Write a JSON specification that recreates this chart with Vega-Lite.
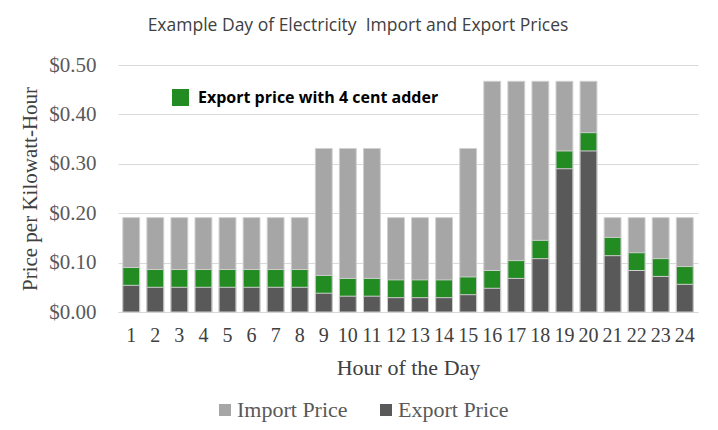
{
  "$schema": "https://vega.github.io/schema/vega-lite/v6.json",
  "autosize": "none",
  "padding": {"left": 118, "top": 65, "right": 20, "bottom": 118},
  "width": 580,
  "height": 247,
  "background": "white",
  "title": {
    "text": "Example Day of Electricity\u00a0\u00a0Import and Export Prices",
    "font": "Open Sans",
    "fontSize": 17.5,
    "fontWeight": "normal",
    "color": "#404040",
    "anchor": "middle",
    "dx": -50,
    "offset": 20
  },
  "data": {
    "values": [
      {"hour": 1, "import": 0.191, "export": 0.054, "adder": 0.090},
      {"hour": 2, "import": 0.191, "export": 0.050, "adder": 0.086},
      {"hour": 3, "import": 0.191, "export": 0.050, "adder": 0.086},
      {"hour": 4, "import": 0.191, "export": 0.050, "adder": 0.086},
      {"hour": 5, "import": 0.191, "export": 0.050, "adder": 0.086},
      {"hour": 6, "import": 0.191, "export": 0.050, "adder": 0.086},
      {"hour": 7, "import": 0.191, "export": 0.050, "adder": 0.086},
      {"hour": 8, "import": 0.191, "export": 0.050, "adder": 0.086},
      {"hour": 9, "import": 0.331, "export": 0.038, "adder": 0.074},
      {"hour": 10, "import": 0.331, "export": 0.032, "adder": 0.068},
      {"hour": 11, "import": 0.331, "export": 0.032, "adder": 0.068},
      {"hour": 12, "import": 0.191, "export": 0.029, "adder": 0.065},
      {"hour": 13, "import": 0.191, "export": 0.029, "adder": 0.065},
      {"hour": 14, "import": 0.191, "export": 0.029, "adder": 0.065},
      {"hour": 15, "import": 0.331, "export": 0.035, "adder": 0.071},
      {"hour": 16, "import": 0.467, "export": 0.048, "adder": 0.084},
      {"hour": 17, "import": 0.467, "export": 0.068, "adder": 0.104},
      {"hour": 18, "import": 0.467, "export": 0.108, "adder": 0.145},
      {"hour": 19, "import": 0.467, "export": 0.290, "adder": 0.326},
      {"hour": 20, "import": 0.467, "export": 0.326, "adder": 0.363},
      {"hour": 21, "import": 0.191, "export": 0.114, "adder": 0.151},
      {"hour": 22, "import": 0.191, "export": 0.084, "adder": 0.120},
      {"hour": 23, "import": 0.191, "export": 0.072, "adder": 0.108},
      {"hour": 24, "import": 0.191, "export": 0.056, "adder": 0.092}
    ]
  },
  "encoding": {
    "x": {
      "field": "hour",
      "type": "ordinal",
      "title": "Hour of the Day",
      "scale": {"paddingInner": 0.3, "paddingOuter": 0.2},
      "axis": {
        "labelAngle": 0,
        "labelFont": "Liberation Serif",
        "labelFontSize": 20,
        "labelColor": "#404040",
        "labelPadding": 13,
        "ticks": false,
        "domainColor": "#d9d9d9",
        "titleFont": "Liberation Serif",
        "titleFontSize": 22,
        "titleFontWeight": "normal",
        "titleColor": "#404040",
        "titlePadding": 12
      }
    }
  },
  "layer": [
    {
      "mark": {"type": "bar", "stroke": "#cfcfcf", "strokeWidth": 1},
      "encoding": {
        "y": {
          "field": "import",
          "type": "quantitative",
          "title": "Price per Kilowatt-Hour",
          "scale": {"domain": [0, 0.5]},
          "axis": {
            "values": [0, 0.1, 0.2, 0.3, 0.4, 0.5],
            "format": "$.2f",
            "labelFont": "Liberation Serif",
            "labelFontSize": 21,
            "labelColor": "#595959",
            "labelPadding": 22,
            "ticks": false,
            "domain": false,
            "gridColor": "#d9d9d9",
            "titleFont": "Liberation Serif",
            "titleFontSize": 21,
            "titleFontWeight": "normal",
            "titleColor": "#404040",
            "titlePadding": 8
          }
        },
        "color": {
          "datum": "Import Price",
          "type": "nominal",
          "scale": {"domain": ["Import Price", "Export Price"], "range": ["#a6a6a6", "#595959"]},
          "legend": {
            "title": null,
            "orient": "none",
            "direction": "horizontal",
            "legendX": 96,
            "legendY": 334,
            "symbolType": "square",
            "symbolSize": 144,
            "symbolStrokeWidth": 0,
            "labelFont": "Liberation Serif",
            "labelFontSize": 22,
            "labelColor": "#595959",
            "labelOffset": 1,
            "columnPadding": 27
          }
        }
      }
    },
    {
      "mark": {"type": "bar", "stroke": "#cfcfcf", "strokeWidth": 1},
      "encoding": {
        "y": {"field": "adder", "type": "quantitative"},
        "fill": {
          "datum": "Export price with 4 cent adder",
          "type": "nominal",
          "scale": {"range": ["#228b22"]},
          "legend": {
            "title": null,
            "orient": "none",
            "legendX": 54,
            "legendY": 24,
            "symbolType": "square",
            "symbolSize": 289,
            "symbolStrokeWidth": 0,
            "labelFont": "Open Sans",
            "labelFontSize": 16,
            "labelFontWeight": "bold",
            "labelColor": "#000000",
            "labelOffset": 9,
            "labelLimit": 400
          }
        }
      }
    },
    {
      "mark": {"type": "bar", "stroke": "#cfcfcf", "strokeWidth": 1},
      "encoding": {
        "y": {"field": "export", "type": "quantitative"},
        "color": {"datum": "Export Price", "type": "nominal"}
      }
    }
  ],
  "config": {
    "view": {"stroke": null}
  }
}
